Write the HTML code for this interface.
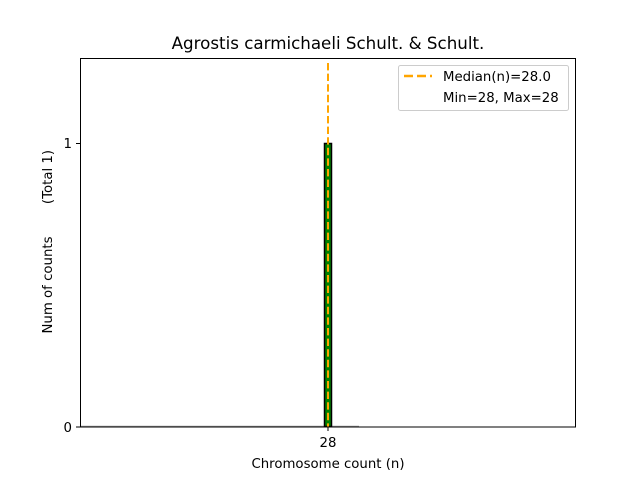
<!DOCTYPE html>
<html><head><meta charset="utf-8"><style>html,body{margin:0;padding:0;background:#fff}</style></head>
<body>
<svg width="640" height="480" xmlns="http://www.w3.org/2000/svg" font-family="DejaVu Sans, Liberation Sans, sans-serif">
<rect width="640" height="480" fill="#fff"/>
<text x="328" y="49" font-size="16.7" text-anchor="middle" fill="#000">Agrostis carmichaeli Schult. &amp; Schult.</text>
<line x1="80" y1="426.5" x2="359" y2="426.5" stroke="#999" stroke-width="1.5"/>
<rect x="324.5" y="143.5" width="7" height="283" fill="#008000" stroke="#000" stroke-width="1.5"/>
<line x1="328" y1="63" x2="328" y2="427" stroke="#ffa500" stroke-width="2" stroke-dasharray="7.4,3.2"/>
<rect x="80.5" y="58.5" width="495" height="368.5" fill="none" stroke="#000" stroke-width="1"/>
<line x1="76" y1="143.5" x2="80" y2="143.5" stroke="#000"/>
<line x1="76" y1="427" x2="80" y2="427" stroke="#000"/>
<text x="72" y="148" font-size="13.3" text-anchor="end">1</text>
<text x="72" y="432" font-size="13.3" text-anchor="end">0</text>
<line x1="328" y1="427" x2="328" y2="431" stroke="#000"/>
<text x="328" y="447" font-size="13.3" text-anchor="middle">28</text>
<text x="328" y="468" font-size="13.3" text-anchor="middle">Chromosome count (n)</text>
<text transform="translate(52,285) rotate(-90)" font-size="13.3" text-anchor="middle">Num of counts</text>
<text transform="translate(52,177) rotate(-90)" font-size="13.3" text-anchor="middle">(Total 1)</text>
<rect x="398.5" y="65.5" width="170" height="45" rx="2" fill="#fff" stroke="#ccc"/>
<line x1="404" y1="76" x2="432" y2="76" stroke="#ffa500" stroke-width="2.5" stroke-dasharray="9,4"/>
<text x="443" y="81" font-size="13.3">Median(n)=28.0</text>
<text x="443" y="102" font-size="13.3">Min=28, Max=28</text>
</svg>
</body></html>
